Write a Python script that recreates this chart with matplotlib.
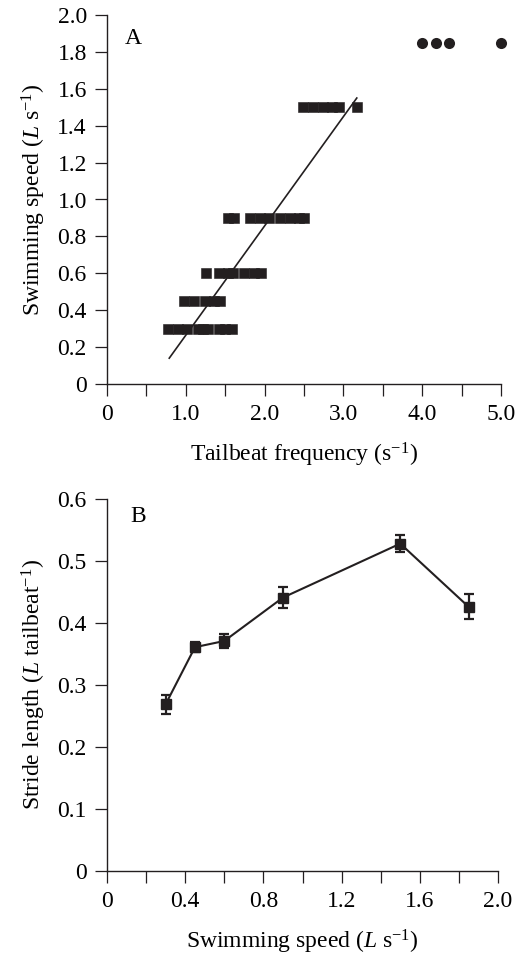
import numpy as np
import matplotlib
matplotlib.use("Agg")
from matplotlib import pyplot as plt
from matplotlib.ticker import MultipleLocator, FuncFormatter

plt.rcParams['font.family'] = ['Liberation Serif', 'DejaVu Serif']
plt.rcParams['mathtext.fontset'] = 'custom'
plt.rcParams['mathtext.rm'] = 'Liberation Serif'
plt.rcParams['mathtext.it'] = 'Liberation Serif:italic'
plt.rcParams['font.size'] = 17

# panel A: tailbeat frequency at each swimming speed
freq_03 = [0.78, 0.90, 1.02, 1.15, 1.22, 1.28, 1.42, 1.50, 1.59]
freq_045 = [0.98, 1.11, 1.24, 1.36, 1.43]
freq_06 = [1.25, 1.42, 1.53, 1.60, 1.74, 1.86, 1.96]
freq_09 = [1.53, 1.61, 1.81, 1.94, 2.06, 2.19, 2.32, 2.44, 2.50]
freq_15 = [2.49, 2.61, 2.74, 2.86, 2.94, 3.17]
freq_185 = [4.00, 4.17, 4.34, 5.00]
fit_x = [0.79, 3.17]
fit_y = [0.14, 1.55]

# panel B: stride length vs swimming speed
speed = [0.3, 0.45, 0.6, 0.9, 1.5, 1.85]
stride = [0.269, 0.361, 0.371, 0.441, 0.528, 0.426]
stride_err = [0.015, 0.008, 0.012, 0.017, 0.014, 0.020]

fig = plt.figure(figsize=(5.28, 9.57), dpi=100)
W, H = 528, 957
axA = fig.add_axes([107/W, 1-384/H, (501-107)/W, (384-15)/H])
axB = fig.add_axes([107/W, 1-871/H, (498-107)/W, (871-499)/H])

col = '#231f20'
for xs, yv in [(freq_03, 0.3), (freq_045, 0.45), (freq_06, 0.6),
               (freq_09, 0.9), (freq_15, 1.5)]:
    axA.plot(xs, [yv]*len(xs), 's', color=col, ms=7.6, mew=0.4, mec=col, clip_on=False)
axA.plot(freq_185, [1.85]*len(freq_185), 'o', color=col, ms=8, mew=0, clip_on=False)
axA.plot(fit_x, fit_y, '-', color=col, lw=1.2)

axA.set_xlim(0, 5.0)
axA.set_ylim(0, 2.0)
axA.xaxis.set_major_locator(MultipleLocator(0.5))
axA.yaxis.set_major_locator(MultipleLocator(0.2))
axA.xaxis.set_major_formatter(FuncFormatter(
    lambda v, p: '0' if v == 0 else ('%.1f' % v if abs(v - round(v)) < 1e-6 else '')))
axA.yaxis.set_major_formatter(FuncFormatter(lambda v, p: '0' if v == 0 else '%.1f' % v))
axA.set_xlabel(r'Tailbeat frequency (s$^{-1}$)', labelpad=11)
axA.set_ylabel(r'Swimming speed ($L$ s$^{-1}$)', labelpad=7)
axA.text(0.045, 0.965, 'A', transform=axA.transAxes, va='top', ha='left')

axB.errorbar(speed, stride, yerr=stride_err, fmt='-s', color=col, ms=7.4, mec=col,
             lw=1.5, elinewidth=1.6, capsize=3.6, capthick=1.6, clip_on=False)
axB.set_xlim(0, 2.0)
axB.set_ylim(0, 0.6)
axB.xaxis.set_major_locator(MultipleLocator(0.2))
axB.yaxis.set_major_locator(MultipleLocator(0.1))
axB.xaxis.set_major_formatter(FuncFormatter(
    lambda v, p: '0' if abs(v) < 1e-6 else ('%.1f' % v if abs(v/0.4 - round(v/0.4)) < 1e-6 else '')))
axB.yaxis.set_major_formatter(FuncFormatter(lambda v, p: '0' if abs(v) < 1e-6 else '%.1f' % v))
axB.set_xlabel(r'Swimming speed ($L$ s$^{-1}$)', labelpad=11)
axB.set_ylabel(r'Stride length ($L$ tailbeat$^{-1}$)', labelpad=7)
axB.text(0.06, 0.98, 'B', transform=axB.transAxes, va='top', ha='left')

for ax in (axA, axB):
    ax.spines['top'].set_visible(False)
    ax.spines['right'].set_visible(False)
    for s in ('left', 'bottom'):
        ax.spines[s].set_linewidth(1.0)
        ax.spines[s].set_color(col)
    ax.tick_params(direction='out', length=8.5, width=0.9, color=col, pad=6)

fig.savefig('out.png', dpi=100)
